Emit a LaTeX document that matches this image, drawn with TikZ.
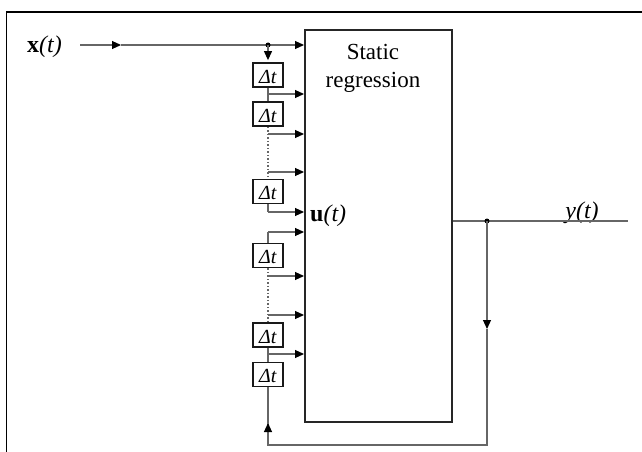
\documentclass[tikz,border=0pt]{standalone}
\usepackage{fontspec}
\setmainfont{Liberation Serif}
\usetikzlibrary{arrows.meta}
\begin{document}
\begin{tikzpicture}[x=1pt,y=-1pt,
  conn/.style={draw=black!60, line width=1.1pt},
  tip/.style={conn,-{Triangle[length=9pt,width=8pt,black]}},
  dly/.style={draw=black!90, line width=1.8pt, minimum width=30pt, minimum height=24pt, inner sep=0pt, text height=16pt, text depth=0pt, font=\fontsize{20}{20}\selectfont},
  dotline/.style={conn, dash pattern=on 1.5pt off 2pt},
  lbl/.style={font=\fontsize{24}{28}\selectfont}]
\useasboundingbox (0,0) rectangle (642,452);
% outer frame (only top and left edges visible)
\draw[line width=1.3pt] (642,12) -- (6.5,12) -- (6.5,452);
% main block
\node[draw=black!85, line width=1.8pt, minimum width=147pt, minimum height=392pt, inner sep=0pt, anchor=north west] (reg) at (304,29) {};
\node[align=center, font=\fontsize{23}{28}\selectfont] (title) at (373,68) {Static\\regression};
% labels
\node[lbl, anchor=west, inner sep=0pt] (xt) at (27,47) {\textbf{x}\textit{(t)}};
\node[lbl, anchor=west, inner sep=0pt] (ut) at (310,216) {\textbf{u}\textit{(t)}};
\node[lbl, anchor=base, inner sep=0pt] (yt) at (582,218) {\textit{y(t)}};
% delay boxes
\node[dly] (d1) at (268,75) {\textit{Δt}};
\node[dly] (d2) at (268,114) {\textit{Δt}};
\node[dly] (d3) at (268,191.5) {\textit{Δt}};
\node[dly] (d4) at (268,255.5) {\textit{Δt}};
\node[dly] (d5) at (268,335) {\textit{Δt}};
\node[dly] (d6) at (268,374.5) {\textit{Δt}};
% coordinates
\coordinate (in) at (80,45);
\coordinate (inm) at (121,45);
\coordinate (sp) at (268,45);
\coordinate (b1) at (268,94);
\coordinate (b2) at (268,134);
\coordinate (b3) at (268,172);
\coordinate (b4) at (268,212);
\coordinate (b5) at (268,232);
\coordinate (b6) at (268,276);
\coordinate (b7) at (268,315);
\coordinate (b8) at (268,354);
\coordinate (fb1) at (268,445);
\coordinate (fbm) at (268,424);
\coordinate (fb2) at (487,445);
\coordinate (op) at (487,221);
\coordinate (opm) at (487,329);
\coordinate (out) at (628,221);
% input
\draw[tip] (in) -- (inm);
\draw[conn] (inm) -- (sp);
\draw[tip] (sp) -- (reg.west |- sp);
\fill (sp) circle (2.5pt);
\draw[tip, shorten >=2pt] (sp) -- (d1.north);
% tapped delay line
\draw[conn] (d1.south) -- (d2.north);
\draw[conn] (d1.south) -- (b1);
\draw[tip] (b1) -- (reg.west |- b1);
\draw[dotline] (d2.south) -- (d3.north);
\draw[tip] (b2) -- (reg.west |- b2);
\draw[tip] (b3) -- (reg.west |- b3);
\draw[conn] (d3.south) -- (b4);
\draw[tip] (b4) -- (reg.west |- b4);
\draw[conn] (d4.north) -- (b5);
\draw[tip] (b5) -- (reg.west |- b5);
\draw[dotline] (d4.south) -- (d5.north);
\draw[tip] (b6) -- (reg.west |- b6);
\draw[tip] (b7) -- (reg.west |- b7);
\draw[conn] (d5.south) -- (d6.north);
\draw[tip] (b8) -- (reg.west |- b8);
% output and feedback
\draw[conn] (reg.east |- op) -- (out);
\fill (op) circle (2.5pt);
\draw[tip] (op) -- (opm);
\draw[conn] (opm) -- (fb2) -- (fb1) -- (fbm);
\draw[tip] (fbm) -- ++(0,-1);
\draw[conn] (fbm) -- (d6.south);
\end{tikzpicture}
\end{document}
